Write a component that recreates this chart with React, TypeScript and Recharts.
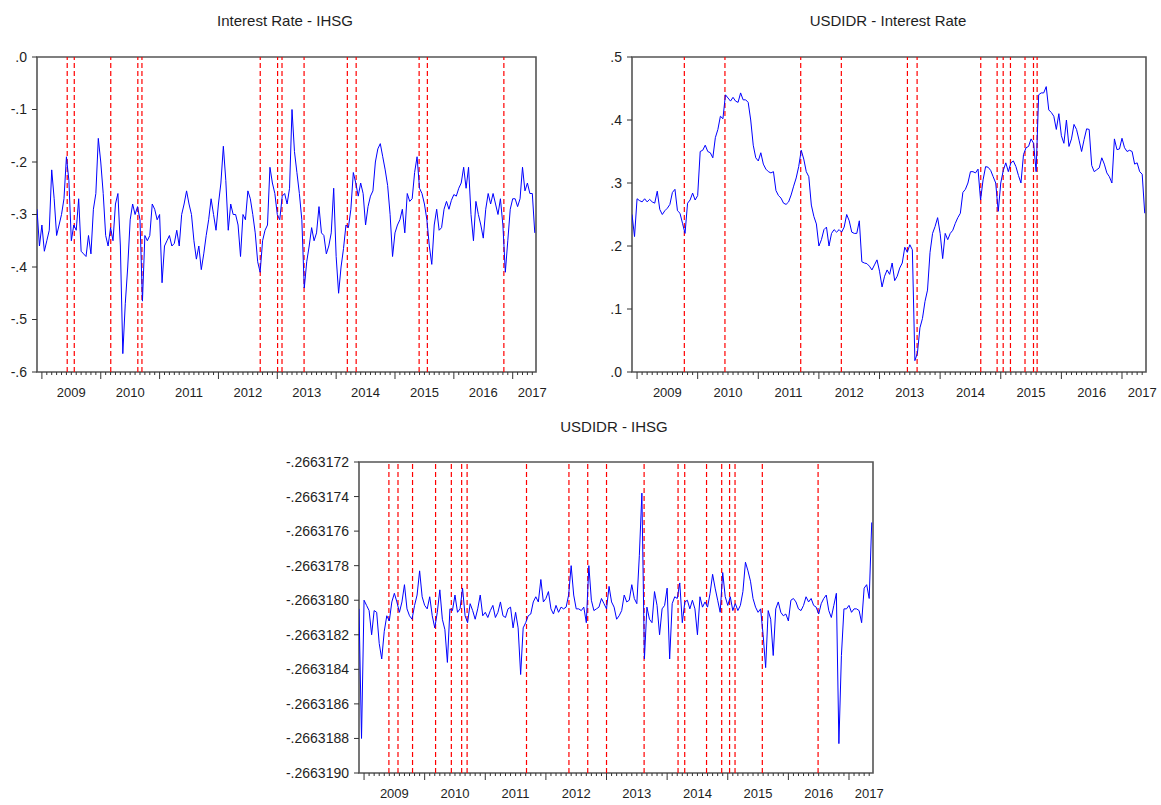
import React from 'react';
import { LineChart, Line, XAxis, YAxis, ReferenceLine, ReferenceArea } from 'recharts';

// ---------- time index (half-monthly observations, Dec 2008 .. May 2017) ----------
const startYear = 2008.9167;
const periodsPerYear = 24;
const xDomainStart = 2008.9167;
const xDomainEnd = 2017.396;

const yearLabels = ['2009', '2010', '2011', '2012', '2013', '2014', '2015', '2016', '2017'];

// ---------- Interest Rate - IHSG ----------
const irIhsgValues = [
  -0.29, -0.36, -0.32, -0.37, -0.35, -0.33, -0.215, -0.27, -0.34, -0.32,
  -0.30, -0.27, -0.19, -0.235, -0.35, -0.32, -0.33, -0.27, -0.37, -0.375,
  -0.38, -0.34, -0.375, -0.29, -0.26, -0.155, -0.20, -0.26, -0.34, -0.36,
  -0.325, -0.35, -0.28, -0.26, -0.36, -0.565, -0.47, -0.40, -0.31, -0.28,
  -0.30, -0.285, -0.31, -0.465, -0.34, -0.35, -0.34, -0.28, -0.29, -0.31,
  -0.30, -0.43, -0.36, -0.35, -0.34, -0.36, -0.355, -0.33, -0.36, -0.30,
  -0.28, -0.255, -0.28, -0.30, -0.35, -0.385, -0.36, -0.405, -0.375, -0.34,
  -0.31, -0.27, -0.30, -0.33, -0.28, -0.24, -0.17, -0.235, -0.33, -0.28,
  -0.30, -0.30, -0.32, -0.38, -0.30, -0.31, -0.255, -0.27, -0.30, -0.335,
  -0.39, -0.41, -0.35, -0.33, -0.32, -0.21, -0.24, -0.26, -0.30, -0.31,
  -0.265, -0.26, -0.28, -0.25, -0.10, -0.18, -0.22, -0.26, -0.31, -0.44,
  -0.39, -0.36, -0.325, -0.35, -0.335, -0.285, -0.335, -0.34, -0.375, -0.36,
  -0.335, -0.25, -0.38, -0.45, -0.40, -0.365, -0.32, -0.325, -0.29, -0.22,
  -0.24, -0.265, -0.24, -0.26, -0.32, -0.285, -0.265, -0.255, -0.20, -0.175,
  -0.165, -0.19, -0.215, -0.245, -0.30, -0.38, -0.335, -0.32, -0.31, -0.29,
  -0.335, -0.26, -0.275, -0.27, -0.22, -0.19, -0.25, -0.26, -0.28, -0.31,
  -0.36, -0.395, -0.32, -0.29, -0.33, -0.325, -0.29, -0.275, -0.29, -0.273,
  -0.262, -0.265, -0.25, -0.24, -0.21, -0.25, -0.21, -0.30, -0.35, -0.275,
  -0.30, -0.32, -0.345, -0.29, -0.26, -0.28, -0.26, -0.28, -0.30, -0.27,
  -0.32, -0.41, -0.35, -0.29, -0.27, -0.27, -0.285, -0.27, -0.21, -0.255,
  -0.24, -0.26, -0.26, -0.335,
];
const irIhsgTicks = [0, -0.1, -0.2, -0.3, -0.4, -0.5, -0.6];
const irIhsgBreaks = [
  2009.43, 2009.55, 2010.17, 2010.63, 2010.70, 2012.71, 2013.005, 2013.08,
  2013.455, 2014.19, 2014.34, 2015.41, 2015.55, 2016.85,
];

// ---------- USDIDR - Interest Rate ----------
const usdIrValues = [
  0.25, 0.215, 0.275, 0.272, 0.27, 0.275, 0.27, 0.274, 0.27, 0.268,
  0.287, 0.258, 0.25, 0.256, 0.26, 0.266, 0.285, 0.29, 0.256, 0.252,
  0.236, 0.22, 0.268, 0.273, 0.284, 0.273, 0.28, 0.35, 0.352, 0.36,
  0.35, 0.348, 0.34, 0.372, 0.385, 0.406, 0.402, 0.44, 0.435, 0.43,
  0.436, 0.43, 0.428, 0.443, 0.432, 0.432, 0.428, 0.40, 0.36, 0.34,
  0.335, 0.348, 0.33, 0.322, 0.318, 0.316, 0.318, 0.288, 0.28, 0.276,
  0.268, 0.266, 0.27, 0.281, 0.295, 0.308, 0.326, 0.352, 0.338, 0.318,
  0.31, 0.265, 0.247, 0.235, 0.2, 0.21, 0.226, 0.23, 0.2, 0.22,
  0.226, 0.222, 0.226, 0.222, 0.23, 0.25, 0.24, 0.222, 0.22, 0.22,
  0.24, 0.175, 0.173, 0.172, 0.168, 0.162, 0.17, 0.178, 0.16, 0.135,
  0.152, 0.162, 0.155, 0.173, 0.145, 0.152, 0.165, 0.173, 0.198, 0.19,
  0.202, 0.194, 0.018, 0.03, 0.07, 0.085, 0.112, 0.13, 0.19, 0.22,
  0.231, 0.245, 0.22, 0.18, 0.22, 0.21, 0.22, 0.225, 0.236, 0.245,
  0.252, 0.285, 0.29, 0.30, 0.318, 0.318, 0.316, 0.322, 0.273, 0.305,
  0.326, 0.325, 0.32, 0.31, 0.30, 0.255, 0.30, 0.32, 0.332, 0.318,
  0.332, 0.335, 0.326, 0.312, 0.30, 0.345, 0.356, 0.358, 0.37, 0.363,
  0.318, 0.44, 0.443, 0.443, 0.453, 0.416, 0.412, 0.406, 0.385, 0.41,
  0.375, 0.363, 0.40, 0.358, 0.37, 0.393, 0.385, 0.368, 0.35, 0.369,
  0.386, 0.385, 0.328, 0.318, 0.321, 0.324, 0.34, 0.33, 0.316, 0.31,
  0.30, 0.37, 0.353, 0.354, 0.371, 0.356, 0.35, 0.352, 0.35, 0.33,
  0.332, 0.318, 0.314, 0.252,
];
const usdIrTicks = [0, 0.1, 0.2, 0.3, 0.4, 0.5];
const usdIrBreaks = [
  2009.78, 2010.45, 2011.70, 2012.37, 2013.46, 2013.62, 2014.67, 2014.94,
  2015.04, 2015.16, 2015.40, 2015.54, 2015.60,
];

// ---------- USDIDR - IHSG ----------
const usdIhsgValues = [
  -0.26631805, -0.2663188, -0.266318, -0.26631803, -0.26631806, -0.2663182, -0.26631806, -0.26631807, -0.26631825, -0.26631834,
  -0.26631818, -0.26631809, -0.26631812, -0.26631801, -0.26631796, -0.26631801, -0.26631807, -0.26631801, -0.26631791, -0.26631805,
  -0.26631809, -0.26631811, -0.26631803, -0.26631797, -0.26631783, -0.26631798, -0.26631803, -0.26631805, -0.26631798, -0.26631809,
  -0.26631816, -0.26631807, -0.26631794, -0.26631811, -0.26631817, -0.26631836, -0.26631805, -0.26631806, -0.26631797, -0.26631807,
  -0.26631805, -0.26631793, -0.26631809, -0.26631813, -0.26631802, -0.26631806, -0.26631811, -0.26631805, -0.26631797, -0.26631809,
  -0.26631807, -0.2663181, -0.26631806, -0.26631803, -0.2663181, -0.26631807, -0.26631801, -0.26631809, -0.2663181, -0.26631805,
  -0.26631804, -0.26631816, -0.26631807, -0.26631816, -0.26631843, -0.26631816, -0.26631813, -0.26631809, -0.26631808, -0.26631801,
  -0.26631798, -0.26631801, -0.26631788, -0.26631801, -0.26631799, -0.26631795, -0.26631805, -0.26631808, -0.26631803, -0.26631807,
  -0.26631804, -0.26631805, -0.26631804, -0.26631797, -0.2663178, -0.26631797, -0.26631805, -0.26631805, -0.26631806, -0.26631804,
  -0.26631813, -0.2663178, -0.266318, -0.26631806, -0.26631805, -0.26631804, -0.26631799, -0.26631802, -0.26631805, -0.26631792,
  -0.26631801, -0.26631804, -0.26631811, -0.26631809, -0.26631806, -0.26631797, -0.26631801, -0.266318, -0.26631791, -0.26631799,
  -0.26631802, -0.26631774, -0.26631738, -0.26631834, -0.26631804, -0.26631811, -0.26631813, -0.26631795, -0.26631803, -0.2663182,
  -0.26631805, -0.26631803, -0.26631793, -0.26631834, -0.26631802, -0.26631798, -0.26631799, -0.2663179, -0.26631813, -0.26631801,
  -0.266318, -0.26631805, -0.266318, -0.26631805, -0.2663182, -0.26631798, -0.26631804, -0.26631801, -0.26631804, -0.26631796,
  -0.26631785, -0.26631793, -0.266318, -0.26631807, -0.26631784, -0.26631798, -0.26631803, -0.26631798, -0.26631806, -0.26631802,
  -0.26631806, -0.26631803, -0.26631795, -0.26631778, -0.26631783, -0.26631789, -0.26631799, -0.26631804, -0.26631807, -0.26631805,
  -0.2663182, -0.26631839, -0.26631806, -0.26631811, -0.26631832, -0.26631805, -0.26631801, -0.26631807, -0.26631809, -0.26631808,
  -0.26631812, -0.266318, -0.26631799, -0.26631801, -0.26631805, -0.26631806, -0.26631803, -0.26631798, -0.26631801, -0.26631799,
  -0.26631803, -0.26631804, -0.26631808, -0.26631802, -0.26631799, -0.26631797, -0.26631806, -0.2663181, -0.26631803, -0.26631796,
  -0.26631883, -0.26631832, -0.26631805, -0.26631805, -0.26631803, -0.26631807, -0.26631805, -0.26631805, -0.26631806, -0.26631813,
  -0.26631793, -0.26631791, -0.26631799, -0.26631755,
];
const usdIhsgTicks = [
  -0.2663172, -0.2663174, -0.2663176, -0.2663178, -0.266318,
  -0.2663182, -0.2663184, -0.2663186, -0.2663188, -0.266319,
];
const usdIhsgBreaks = [
  2009.41, 2009.56, 2009.80, 2010.18, 2010.44, 2010.61, 2010.70, 2011.68,
  2012.38, 2012.69, 2013.00, 2013.62, 2014.18, 2014.29, 2014.65, 2014.90,
  2015.03, 2015.12, 2015.57, 2016.49,
];

// ---------- helpers ----------
const FONT = '"Liberation Sans", Arial, Helvetica, sans-serif';
const TEXT = '#1e1e1e';

const toRows = (vals: number[]) =>
  vals.map((v, i) => ({ t: startYear + i / periodsPerYear, v }));

// monthly axis ticks from Jan 2009 to May 2017
const monthTicks: number[] = [];
for (let k = 0; k <= 100; k++) monthTicks.push(2009 + k / 12);

const eviewsFmt = (digits: number) => (v: number) =>
  v.toFixed(digits).replace(/^(-?)0\./, '$1.');

function XTick(props: any) {
  const { x, y, payload } = props;
  const k = Math.round((payload.value - 2009) * 12);
  const isYear = k % 12 === 0;
  let label: string | null = null;
  if (k % 12 === 6) label = yearLabels[Math.floor(k / 12)];
  if (k === 100) label = yearLabels[8];
  return (
    <g>
      <line x1={x} x2={x} y1={y} y2={y + (isYear ? 7 : 3)} stroke="#333" strokeWidth={1} />
      {label && (
        <text x={x} y={y + 25} textAnchor="middle" fontSize={13} fill={TEXT} fontFamily={FONT}>
          {label}
        </text>
      )}
    </g>
  );
}

type PanelProps = {
  left: number;
  top: number;
  width: number;
  height: number;
  yWidth: number;
  margin: { top: number; right: number; bottom: number; left: number };
  values: number[];
  yDomain: [number, number];
  yTicks: number[];
  digits: number;
  breaks: number[];
};

function Panel(p: PanelProps) {
  const rows = toRows(p.values);
  return (
    <div style={{ position: 'absolute', left: p.left, top: p.top }}>
      <LineChart width={p.width} height={p.height} data={rows} margin={p.margin}>
        <XAxis
          type="number"
          dataKey="t"
          domain={[xDomainStart, xDomainEnd]}
          ticks={monthTicks}
          interval={0}
          tick={(tp: any) => <XTick {...tp} />}
          tickLine={false}
          axisLine={false}
          tickSize={0}
          tickMargin={0}
          height={30}
          allowDataOverflow
        />
        <YAxis
          type="number"
          domain={p.yDomain}
          ticks={p.yTicks}
          interval={0}
          tickFormatter={eviewsFmt(p.digits)}
          width={p.yWidth}
          axisLine={false}
          tickLine={{ stroke: '#333' }}
          tickSize={5}
          tickMargin={5}
          tick={{ fontSize: 14, fill: TEXT, fontFamily: FONT }}
          allowDataOverflow
        />
        {p.breaks.map((b) => (
          <ReferenceLine key={b} x={b} stroke="#FF0000" strokeWidth={1.2} strokeDasharray="5 3" />
        ))}
        <Line
          type="linear"
          dataKey="v"
          stroke="#0000FF"
          strokeWidth={1}
          dot={false}
          isAnimationActive={false}
        />
        <ReferenceArea
          x1={xDomainStart}
          x2={xDomainEnd}
          y1={p.yDomain[0]}
          y2={p.yDomain[1]}
          fill="none"
          fillOpacity={0}
          stroke="#555"
          strokeWidth={1.6}
        />
      </LineChart>
    </div>
  );
}

function Title({ text, cx, top }: { text: string; cx: number; top: number }) {
  return (
    <div
      style={{
        position: 'absolute',
        left: cx - 150,
        top,
        width: 300,
        textAlign: 'center',
        fontFamily: FONT,
        fontSize: 15,
        lineHeight: '18px',
        color: TEXT,
        whiteSpace: 'nowrap',
      }}
    >
      {text}
    </div>
  );
}

export default function App() {
  return (
    <div
      style={{
        position: 'absolute',
        left: 0,
        top: 0,
        width: 1161,
        height: 805,
        background: '#ffffff',
        overflow: 'hidden',
      }}
    >
      <Title text="Interest Rate - IHSG" cx={285} top={12} />
      <Title text="USDIDR - Interest Rate" cx={888} top={12} />
      <Title text="USDIDR - IHSG" cx={614} top={418} />

      <Panel
        left={0}
        top={0}
        width={560}
        height={405}
        yWidth={37}
        margin={{ top: 57, right: 24, bottom: 3, left: 0 }}
        values={irIhsgValues}
        yDomain={[-0.6, 0]}
        yTicks={irIhsgTicks}
        digits={1}
        breaks={irIhsgBreaks}
      />
      <Panel
        left={580}
        top={0}
        width={581}
        height={405}
        yWidth={52}
        margin={{ top: 57, right: 15, bottom: 3, left: 0 }}
        values={usdIrValues}
        yDomain={[0, 0.5]}
        yTicks={usdIrTicks}
        digits={1}
        breaks={usdIrBreaks}
      />
      <Panel
        left={270}
        top={405}
        width={620}
        height={400}
        yWidth={89}
        margin={{ top: 57, right: 17, bottom: 2, left: 0 }}
        values={usdIhsgValues}
        yDomain={[-0.266319, -0.2663172]}
        yTicks={usdIhsgTicks}
        digits={7}
        breaks={usdIhsgBreaks}
      />
    </div>
  );
}
